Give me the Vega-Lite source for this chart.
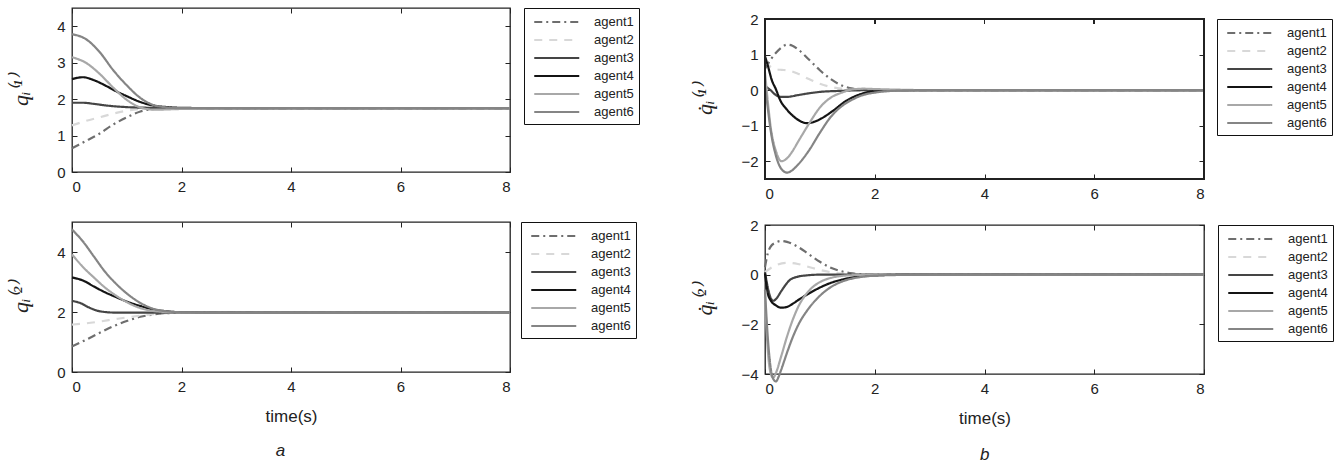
{
"$schema": "https://vega.github.io/schema/vega-lite/v6.json",
"padding": {"left": 9, "top": 6, "right": 0, "bottom": 0},
"spacing": 52,
"config": {
  "font": "Liberation Sans",
  "view": {"stroke": "#222", "strokeWidth": 1.3},
  "axis": {"grid": false, "domain": false, "tickColor": "#222", "tickSize": -5, "tickWidth": 1, "labelFontSize": 15, "labelColor": "#222", "labelPadding": 12, "labelFont": "Liberation Sans", "titleFontWeight": "normal", "titleColor": "#222"},
  "axisY": {"titleFont": "Liberation Serif", "titleFontStyle": "italic", "titleFontSize": 22, "titlePadding": 24},
  "axisX": {"titleFontSize": 17, "titlePadding": 14},
  "line": {"strokeWidth": 2.2, "interpolate": "monotone", "clip": true},
  "rule": {"color": "#222", "strokeWidth": 1.3, "strokeCap": "square"},
  "legend": {"orient": "none", "legendX": 452, "legendY": 0, "strokeColor": "#111", "fillColor": "#fff", "padding": 5, "rowPadding": 2, "labelFontSize": 13, "labelFont": "Liberation Sans", "labelColor": "#222", "symbolSize": 225, "symbolStrokeWidth": 2.2, "symbolType": "M-0.5,0H5.5", "labelOffset": 47}
},
"data": {"values": [
{"p":"a1","g":"agent1","t":0,"v":0.65},{"p":"a1","g":"agent1","t":0.25,"v":0.85},{"p":"a1","g":"agent1","t":0.5,"v":1.05},{"p":"a1","g":"agent1","t":0.75,"v":1.3},{"p":"a1","g":"agent1","t":1,"v":1.5},{"p":"a1","g":"agent1","t":1.25,"v":1.66},{"p":"a1","g":"agent1","t":1.5,"v":1.73},{"p":"a1","g":"agent1","t":2,"v":1.75},{"p":"a1","g":"agent1","t":3,"v":1.75},{"p":"a1","g":"agent1","t":8,"v":1.75},
{"p":"a1","g":"agent2","t":0,"v":1.28},{"p":"a1","g":"agent2","t":0.25,"v":1.4},{"p":"a1","g":"agent2","t":0.5,"v":1.5},{"p":"a1","g":"agent2","t":0.75,"v":1.6},{"p":"a1","g":"agent2","t":1,"v":1.68},{"p":"a1","g":"agent2","t":1.25,"v":1.73},{"p":"a1","g":"agent2","t":1.5,"v":1.75},{"p":"a1","g":"agent2","t":2,"v":1.75},{"p":"a1","g":"agent2","t":3,"v":1.75},{"p":"a1","g":"agent2","t":8,"v":1.75},
{"p":"a1","g":"agent3","t":0,"v":1.9},{"p":"a1","g":"agent3","t":0.2,"v":1.9},{"p":"a1","g":"agent3","t":0.4,"v":1.87},{"p":"a1","g":"agent3","t":0.6,"v":1.83},{"p":"a1","g":"agent3","t":0.8,"v":1.8},{"p":"a1","g":"agent3","t":1,"v":1.78},{"p":"a1","g":"agent3","t":1.5,"v":1.76},{"p":"a1","g":"agent3","t":2,"v":1.75},{"p":"a1","g":"agent3","t":3,"v":1.75},{"p":"a1","g":"agent3","t":8,"v":1.75},
{"p":"a1","g":"agent4","t":0,"v":2.55},{"p":"a1","g":"agent4","t":0.2,"v":2.6},{"p":"a1","g":"agent4","t":0.4,"v":2.52},{"p":"a1","g":"agent4","t":0.6,"v":2.38},{"p":"a1","g":"agent4","t":0.8,"v":2.22},{"p":"a1","g":"agent4","t":1,"v":2.08},{"p":"a1","g":"agent4","t":1.25,"v":1.92},{"p":"a1","g":"agent4","t":1.5,"v":1.82},{"p":"a1","g":"agent4","t":1.75,"v":1.78},{"p":"a1","g":"agent4","t":2,"v":1.76},{"p":"a1","g":"agent4","t":3,"v":1.75},{"p":"a1","g":"agent4","t":8,"v":1.75},
{"p":"a1","g":"agent5","t":0,"v":3.15},{"p":"a1","g":"agent5","t":0.25,"v":3.0},{"p":"a1","g":"agent5","t":0.5,"v":2.7},{"p":"a1","g":"agent5","t":0.75,"v":2.32},{"p":"a1","g":"agent5","t":1,"v":1.98},{"p":"a1","g":"agent5","t":1.25,"v":1.77},{"p":"a1","g":"agent5","t":1.5,"v":1.71},{"p":"a1","g":"agent5","t":2,"v":1.73},{"p":"a1","g":"agent5","t":3,"v":1.75},{"p":"a1","g":"agent5","t":8,"v":1.75},
{"p":"a1","g":"agent6","t":0,"v":3.78},{"p":"a1","g":"agent6","t":0.25,"v":3.65},{"p":"a1","g":"agent6","t":0.5,"v":3.3},{"p":"a1","g":"agent6","t":0.75,"v":2.8},{"p":"a1","g":"agent6","t":1,"v":2.38},{"p":"a1","g":"agent6","t":1.25,"v":2.03},{"p":"a1","g":"agent6","t":1.5,"v":1.83},{"p":"a1","g":"agent6","t":1.75,"v":1.77},{"p":"a1","g":"agent6","t":2,"v":1.75},{"p":"a1","g":"agent6","t":3,"v":1.75},{"p":"a1","g":"agent6","t":8,"v":1.75},

{"p":"a2","g":"agent1","t":0,"v":0.85},{"p":"a2","g":"agent1","t":0.25,"v":1.07},{"p":"a2","g":"agent1","t":0.5,"v":1.3},{"p":"a2","g":"agent1","t":0.75,"v":1.52},{"p":"a2","g":"agent1","t":1,"v":1.7},{"p":"a2","g":"agent1","t":1.25,"v":1.84},{"p":"a2","g":"agent1","t":1.5,"v":1.92},{"p":"a2","g":"agent1","t":1.75,"v":1.96},{"p":"a2","g":"agent1","t":2,"v":1.98},{"p":"a2","g":"agent1","t":3,"v":1.98},{"p":"a2","g":"agent1","t":8,"v":1.98},
{"p":"a2","g":"agent2","t":0,"v":1.58},{"p":"a2","g":"agent2","t":0.25,"v":1.62},{"p":"a2","g":"agent2","t":0.5,"v":1.68},{"p":"a2","g":"agent2","t":0.75,"v":1.75},{"p":"a2","g":"agent2","t":1,"v":1.82},{"p":"a2","g":"agent2","t":1.25,"v":1.88},{"p":"a2","g":"agent2","t":1.5,"v":1.93},{"p":"a2","g":"agent2","t":1.75,"v":1.96},{"p":"a2","g":"agent2","t":2,"v":1.98},{"p":"a2","g":"agent2","t":3,"v":1.98},{"p":"a2","g":"agent2","t":8,"v":1.98},
{"p":"a2","g":"agent3","t":0,"v":2.37},{"p":"a2","g":"agent3","t":0.15,"v":2.3},{"p":"a2","g":"agent3","t":0.3,"v":2.16},{"p":"a2","g":"agent3","t":0.45,"v":2.05},{"p":"a2","g":"agent3","t":0.6,"v":2.0},{"p":"a2","g":"agent3","t":0.8,"v":1.98},{"p":"a2","g":"agent3","t":1,"v":1.98},{"p":"a2","g":"agent3","t":3,"v":1.98},{"p":"a2","g":"agent3","t":8,"v":1.98},
{"p":"a2","g":"agent4","t":0,"v":3.15},{"p":"a2","g":"agent4","t":0.2,"v":3.05},{"p":"a2","g":"agent4","t":0.4,"v":2.85},{"p":"a2","g":"agent4","t":0.6,"v":2.66},{"p":"a2","g":"agent4","t":0.8,"v":2.5},{"p":"a2","g":"agent4","t":1,"v":2.35},{"p":"a2","g":"agent4","t":1.25,"v":2.2},{"p":"a2","g":"agent4","t":1.5,"v":2.08},{"p":"a2","g":"agent4","t":1.75,"v":2.02},{"p":"a2","g":"agent4","t":2,"v":1.99},{"p":"a2","g":"agent4","t":2.5,"v":1.98},{"p":"a2","g":"agent4","t":8,"v":1.98},
{"p":"a2","g":"agent5","t":0,"v":3.92},{"p":"a2","g":"agent5","t":0.2,"v":3.5},{"p":"a2","g":"agent5","t":0.4,"v":3.15},{"p":"a2","g":"agent5","t":0.6,"v":2.82},{"p":"a2","g":"agent5","t":0.8,"v":2.55},{"p":"a2","g":"agent5","t":1,"v":2.33},{"p":"a2","g":"agent5","t":1.25,"v":2.13},{"p":"a2","g":"agent5","t":1.5,"v":2.03},{"p":"a2","g":"agent5","t":2,"v":1.98},{"p":"a2","g":"agent5","t":3,"v":1.98},{"p":"a2","g":"agent5","t":8,"v":1.98},
{"p":"a2","g":"agent6","t":0,"v":4.75},{"p":"a2","g":"agent6","t":0.2,"v":4.35},{"p":"a2","g":"agent6","t":0.4,"v":3.85},{"p":"a2","g":"agent6","t":0.6,"v":3.35},{"p":"a2","g":"agent6","t":0.8,"v":2.95},{"p":"a2","g":"agent6","t":1,"v":2.62},{"p":"a2","g":"agent6","t":1.25,"v":2.3},{"p":"a2","g":"agent6","t":1.5,"v":2.1},{"p":"a2","g":"agent6","t":1.75,"v":2.02},{"p":"a2","g":"agent6","t":2,"v":1.99},{"p":"a2","g":"agent6","t":2.5,"v":1.98},{"p":"a2","g":"agent6","t":8,"v":1.98},

{"p":"b1","g":"agent1","t":0,"v":0.6},{"p":"b1","g":"agent1","t":0.1,"v":0.85},{"p":"b1","g":"agent1","t":0.2,"v":1.05},{"p":"b1","g":"agent1","t":0.3,"v":1.2},{"p":"b1","g":"agent1","t":0.4,"v":1.28},{"p":"b1","g":"agent1","t":0.5,"v":1.25},{"p":"b1","g":"agent1","t":0.6,"v":1.15},{"p":"b1","g":"agent1","t":0.8,"v":0.86},{"p":"b1","g":"agent1","t":1,"v":0.56},{"p":"b1","g":"agent1","t":1.2,"v":0.31},{"p":"b1","g":"agent1","t":1.4,"v":0.13},{"p":"b1","g":"agent1","t":1.6,"v":0.04},{"p":"b1","g":"agent1","t":1.8,"v":0.01},{"p":"b1","g":"agent1","t":2,"v":0},{"p":"b1","g":"agent1","t":3,"v":0},{"p":"b1","g":"agent1","t":8,"v":0},
{"p":"b1","g":"agent2","t":0,"v":0.8},{"p":"b1","g":"agent2","t":0.1,"v":0.66},{"p":"b1","g":"agent2","t":0.2,"v":0.59},{"p":"b1","g":"agent2","t":0.3,"v":0.57},{"p":"b1","g":"agent2","t":0.4,"v":0.56},{"p":"b1","g":"agent2","t":0.6,"v":0.46},{"p":"b1","g":"agent2","t":0.8,"v":0.31},{"p":"b1","g":"agent2","t":1,"v":0.18},{"p":"b1","g":"agent2","t":1.2,"v":0.09},{"p":"b1","g":"agent2","t":1.4,"v":0.04},{"p":"b1","g":"agent2","t":1.6,"v":0.01},{"p":"b1","g":"agent2","t":2,"v":0},{"p":"b1","g":"agent2","t":3,"v":0},{"p":"b1","g":"agent2","t":8,"v":0},
{"p":"b1","g":"agent3","t":0,"v":0.12},{"p":"b1","g":"agent3","t":0.1,"v":0.0},{"p":"b1","g":"agent3","t":0.2,"v":-0.14},{"p":"b1","g":"agent3","t":0.3,"v":-0.19},{"p":"b1","g":"agent3","t":0.4,"v":-0.19},{"p":"b1","g":"agent3","t":0.6,"v":-0.14},{"p":"b1","g":"agent3","t":0.8,"v":-0.09},{"p":"b1","g":"agent3","t":1,"v":-0.05},{"p":"b1","g":"agent3","t":1.4,"v":-0.02},{"p":"b1","g":"agent3","t":2,"v":0},{"p":"b1","g":"agent3","t":3,"v":0},{"p":"b1","g":"agent3","t":8,"v":0},
{"p":"b1","g":"agent4","t":0,"v":0.95},{"p":"b1","g":"agent4","t":0.05,"v":0.7},{"p":"b1","g":"agent4","t":0.12,"v":0.3},{"p":"b1","g":"agent4","t":0.2,"v":0.02},{"p":"b1","g":"agent4","t":0.27,"v":-0.26},{"p":"b1","g":"agent4","t":0.4,"v":-0.55},{"p":"b1","g":"agent4","t":0.52,"v":-0.74},{"p":"b1","g":"agent4","t":0.64,"v":-0.87},{"p":"b1","g":"agent4","t":0.76,"v":-0.93},{"p":"b1","g":"agent4","t":0.88,"v":-0.9},{"p":"b1","g":"agent4","t":1,"v":-0.82},{"p":"b1","g":"agent4","t":1.24,"v":-0.58},{"p":"b1","g":"agent4","t":1.48,"v":-0.3},{"p":"b1","g":"agent4","t":1.73,"v":-0.12},{"p":"b1","g":"agent4","t":2,"v":-0.03},{"p":"b1","g":"agent4","t":2.5,"v":0},{"p":"b1","g":"agent4","t":3,"v":0},{"p":"b1","g":"agent4","t":8,"v":0},
{"p":"b1","g":"agent5","t":0,"v":0.5},{"p":"b1","g":"agent5","t":0.05,"v":-0.3},{"p":"b1","g":"agent5","t":0.1,"v":-1.0},{"p":"b1","g":"agent5","t":0.2,"v":-1.72},{"p":"b1","g":"agent5","t":0.3,"v":-2.0},{"p":"b1","g":"agent5","t":0.4,"v":-1.92},{"p":"b1","g":"agent5","t":0.5,"v":-1.72},{"p":"b1","g":"agent5","t":0.6,"v":-1.46},{"p":"b1","g":"agent5","t":0.8,"v":-0.95},{"p":"b1","g":"agent5","t":1,"v":-0.49},{"p":"b1","g":"agent5","t":1.2,"v":-0.21},{"p":"b1","g":"agent5","t":1.4,"v":-0.07},{"p":"b1","g":"agent5","t":1.6,"v":0.02},{"p":"b1","g":"agent5","t":1.8,"v":0.04},{"p":"b1","g":"agent5","t":2,"v":0.03},{"p":"b1","g":"agent5","t":2.5,"v":0.01},{"p":"b1","g":"agent5","t":3,"v":0},{"p":"b1","g":"agent5","t":8,"v":0},
{"p":"b1","g":"agent6","t":0,"v":0.1},{"p":"b1","g":"agent6","t":0.05,"v":-0.5},{"p":"b1","g":"agent6","t":0.1,"v":-1.1},{"p":"b1","g":"agent6","t":0.2,"v":-1.85},{"p":"b1","g":"agent6","t":0.3,"v":-2.22},{"p":"b1","g":"agent6","t":0.4,"v":-2.32},{"p":"b1","g":"agent6","t":0.5,"v":-2.25},{"p":"b1","g":"agent6","t":0.6,"v":-2.1},{"p":"b1","g":"agent6","t":0.8,"v":-1.7},{"p":"b1","g":"agent6","t":1,"v":-1.2},{"p":"b1","g":"agent6","t":1.2,"v":-0.75},{"p":"b1","g":"agent6","t":1.4,"v":-0.45},{"p":"b1","g":"agent6","t":1.6,"v":-0.26},{"p":"b1","g":"agent6","t":1.8,"v":-0.13},{"p":"b1","g":"agent6","t":2,"v":-0.07},{"p":"b1","g":"agent6","t":2.5,"v":-0.01},{"p":"b1","g":"agent6","t":3,"v":0},{"p":"b1","g":"agent6","t":8,"v":0},

{"p":"b2","g":"agent1","t":0,"v":0.3},{"p":"b2","g":"agent1","t":0.05,"v":0.85},{"p":"b2","g":"agent1","t":0.1,"v":1.12},{"p":"b2","g":"agent1","t":0.2,"v":1.3},{"p":"b2","g":"agent1","t":0.3,"v":1.36},{"p":"b2","g":"agent1","t":0.4,"v":1.32},{"p":"b2","g":"agent1","t":0.6,"v":1.12},{"p":"b2","g":"agent1","t":0.8,"v":0.82},{"p":"b2","g":"agent1","t":1,"v":0.52},{"p":"b2","g":"agent1","t":1.2,"v":0.28},{"p":"b2","g":"agent1","t":1.4,"v":0.13},{"p":"b2","g":"agent1","t":1.6,"v":0.05},{"p":"b2","g":"agent1","t":1.8,"v":0.01},{"p":"b2","g":"agent1","t":2,"v":0},{"p":"b2","g":"agent1","t":3,"v":0},{"p":"b2","g":"agent1","t":8,"v":0},
{"p":"b2","g":"agent2","t":0,"v":0.1},{"p":"b2","g":"agent2","t":0.1,"v":0.26},{"p":"b2","g":"agent2","t":0.2,"v":0.38},{"p":"b2","g":"agent2","t":0.4,"v":0.48},{"p":"b2","g":"agent2","t":0.6,"v":0.43},{"p":"b2","g":"agent2","t":0.8,"v":0.31},{"p":"b2","g":"agent2","t":1,"v":0.19},{"p":"b2","g":"agent2","t":1.2,"v":0.1},{"p":"b2","g":"agent2","t":1.4,"v":0.04},{"p":"b2","g":"agent2","t":1.6,"v":0.01},{"p":"b2","g":"agent2","t":2,"v":0},{"p":"b2","g":"agent2","t":3,"v":0},{"p":"b2","g":"agent2","t":8,"v":0},
{"p":"b2","g":"agent3","t":0,"v":0.1},{"p":"b2","g":"agent3","t":0.05,"v":-0.5},{"p":"b2","g":"agent3","t":0.1,"v":-0.92},{"p":"b2","g":"agent3","t":0.15,"v":-1.05},{"p":"b2","g":"agent3","t":0.2,"v":-0.98},{"p":"b2","g":"agent3","t":0.3,"v":-0.65},{"p":"b2","g":"agent3","t":0.45,"v":-0.22},{"p":"b2","g":"agent3","t":0.6,"v":-0.08},{"p":"b2","g":"agent3","t":0.75,"v":-0.03},{"p":"b2","g":"agent3","t":1,"v":0},{"p":"b2","g":"agent3","t":3,"v":0},{"p":"b2","g":"agent3","t":8,"v":0},
{"p":"b2","g":"agent4","t":0,"v":0.05},{"p":"b2","g":"agent4","t":0.05,"v":-0.75},{"p":"b2","g":"agent4","t":0.1,"v":-1.02},{"p":"b2","g":"agent4","t":0.2,"v":-1.24},{"p":"b2","g":"agent4","t":0.3,"v":-1.33},{"p":"b2","g":"agent4","t":0.4,"v":-1.3},{"p":"b2","g":"agent4","t":0.5,"v":-1.18},{"p":"b2","g":"agent4","t":0.6,"v":-1.03},{"p":"b2","g":"agent4","t":0.8,"v":-0.76},{"p":"b2","g":"agent4","t":1,"v":-0.52},{"p":"b2","g":"agent4","t":1.2,"v":-0.33},{"p":"b2","g":"agent4","t":1.4,"v":-0.2},{"p":"b2","g":"agent4","t":1.6,"v":-0.11},{"p":"b2","g":"agent4","t":1.8,"v":-0.05},{"p":"b2","g":"agent4","t":2,"v":-0.03},{"p":"b2","g":"agent4","t":2.5,"v":0},{"p":"b2","g":"agent4","t":3,"v":0},{"p":"b2","g":"agent4","t":8,"v":0},
{"p":"b2","g":"agent5","t":0,"v":-0.9},{"p":"b2","g":"agent5","t":0.05,"v":-3.0},{"p":"b2","g":"agent5","t":0.1,"v":-3.95},{"p":"b2","g":"agent5","t":0.15,"v":-4.15},{"p":"b2","g":"agent5","t":0.2,"v":-3.95},{"p":"b2","g":"agent5","t":0.3,"v":-3.25},{"p":"b2","g":"agent5","t":0.4,"v":-2.5},{"p":"b2","g":"agent5","t":0.5,"v":-1.85},{"p":"b2","g":"agent5","t":0.6,"v":-1.32},{"p":"b2","g":"agent5","t":0.8,"v":-0.65},{"p":"b2","g":"agent5","t":1,"v":-0.3},{"p":"b2","g":"agent5","t":1.2,"v":-0.13},{"p":"b2","g":"agent5","t":1.4,"v":-0.05},{"p":"b2","g":"agent5","t":1.6,"v":-0.02},{"p":"b2","g":"agent5","t":2,"v":0},{"p":"b2","g":"agent5","t":3,"v":0},{"p":"b2","g":"agent5","t":8,"v":0},
{"p":"b2","g":"agent6","t":0,"v":-0.6},{"p":"b2","g":"agent6","t":0.05,"v":-2.5},{"p":"b2","g":"agent6","t":0.1,"v":-3.7},{"p":"b2","g":"agent6","t":0.15,"v":-4.2},{"p":"b2","g":"agent6","t":0.2,"v":-4.3},{"p":"b2","g":"agent6","t":0.25,"v":-4.1},{"p":"b2","g":"agent6","t":0.3,"v":-3.8},{"p":"b2","g":"agent6","t":0.4,"v":-3.15},{"p":"b2","g":"agent6","t":0.5,"v":-2.55},{"p":"b2","g":"agent6","t":0.6,"v":-2.05},{"p":"b2","g":"agent6","t":0.8,"v":-1.35},{"p":"b2","g":"agent6","t":1,"v":-0.85},{"p":"b2","g":"agent6","t":1.2,"v":-0.5},{"p":"b2","g":"agent6","t":1.4,"v":-0.28},{"p":"b2","g":"agent6","t":1.6,"v":-0.15},{"p":"b2","g":"agent6","t":1.8,"v":-0.08},{"p":"b2","g":"agent6","t":2,"v":-0.04},{"p":"b2","g":"agent6","t":2.5,"v":-0.01},{"p":"b2","g":"agent6","t":3,"v":0},{"p":"b2","g":"agent6","t":8,"v":0}
]},
"hconcat": [
 {"spacing": 25,
  "title": {"text": "a", "orient": "bottom", "anchor": "middle", "dx": -44, "fontStyle": "italic", "fontSize": 17, "fontWeight": "normal", "font": "Liberation Sans", "color": "#222", "offset": 18},
  "vconcat": [
  {"width": 438, "height": 164, "transform": [{"filter": "datum.p === 'a1'"}],
   "layer": [
    {"mark": {"type": "line"}, "encoding": {
      "x": {"field": "t", "type": "quantitative", "scale": {"domain": [0, 8], "nice": false}, "axis": {"values": [0, 2, 4, 6, 8], "title": null}},
      "y": {"field": "v", "type": "quantitative", "scale": {"domain": [0, 4.5], "nice": false, "zero": false}, "axis": {"values": [0, 1, 2, 3, 4], "title": "qᵢ⁽¹⁾"}},
      "color": {"field": "g", "type": "nominal", "title": null, "scale": {"domain": ["agent1","agent2","agent3","agent4","agent5","agent6"], "range": ["#6e6e6e","#d8d8d8","#454545","#141414","#a8a8a8","#858585"]}, "legend": {"title": null}},
      "strokeDash": {"field": "g", "type": "nominal", "title": null, "scale": {"domain": ["agent1","agent2","agent3","agent4","agent5","agent6"], "range": [[8,4,2,4],[8,7],[1,0],[1,0],[1,0],[1,0]]}, "legend": {"title": null}}
    }},
    {"mark": {"type": "line", "strokeOpacity": 0}, "encoding": {
      "x": {"field": "t", "type": "quantitative", "scale": {"domain": [0, 8], "nice": false}, "axis": {"orient": "top", "values": [0, 2, 4, 6, 8], "labels": false, "title": null}},
      "y": {"field": "v", "type": "quantitative", "scale": {"domain": [0, 4.5], "nice": false, "zero": false}, "axis": {"orient": "right", "values": [0, 1, 2, 3, 4], "labels": false, "title": null}},
      "detail": {"field": "g"}
    }}
   ],
   "resolve": {"axis": {"x": "independent", "y": "independent"}}
  },
  {"width": 438, "height": 150, "transform": [{"filter": "datum.p === 'a2'"}],
   "layer": [
    {"mark": {"type": "line"}, "encoding": {
      "x": {"field": "t", "type": "quantitative", "scale": {"domain": [0, 8], "nice": false}, "axis": {"values": [0, 2, 4, 6, 8], "title": "time(s)"}},
      "y": {"field": "v", "type": "quantitative", "scale": {"domain": [0, 5], "nice": false, "zero": false}, "axis": {"values": [0, 2, 4], "title": "qᵢ⁽²⁾"}},
      "color": {"field": "g", "type": "nominal", "title": null, "scale": {"domain": ["agent1","agent2","agent3","agent4","agent5","agent6"], "range": ["#6e6e6e","#d8d8d8","#454545","#141414","#a8a8a8","#858585"]}, "legend": {"title": null, "legendX": 449}},
      "strokeDash": {"field": "g", "type": "nominal", "title": null, "scale": {"domain": ["agent1","agent2","agent3","agent4","agent5","agent6"], "range": [[8,4,2,4],[8,7],[1,0],[1,0],[1,0],[1,0]]}, "legend": {"title": null, "legendX": 449}}
    }},
    {"mark": {"type": "line", "strokeOpacity": 0}, "encoding": {
      "x": {"field": "t", "type": "quantitative", "scale": {"domain": [0, 8], "nice": false}, "axis": {"orient": "top", "values": [0, 2, 4, 6, 8], "labels": false, "title": null}},
      "y": {"field": "v", "type": "quantitative", "scale": {"domain": [0, 5], "nice": false, "zero": false}, "axis": {"orient": "right", "values": [0, 2, 4], "labels": false, "title": null}},
      "detail": {"field": "g"}
    }}
   ],
   "resolve": {"axis": {"x": "independent", "y": "independent"}}
  }
 ],
 "resolve": {"scale": {"color": "independent", "strokeDash": "independent"}, "legend": {"color": "independent", "strokeDash": "independent"}}
 },
 {"spacing": 16,
  "title": {"text": "b", "orient": "bottom", "anchor": "middle", "dx": -29, "fontStyle": "italic", "fontSize": 17, "fontWeight": "normal", "font": "Liberation Sans", "color": "#222", "offset": 20},
  "vconcat": [
  {"width": 439, "height": 171, "view": {"stroke": null}, "transform": [{"filter": "datum.p === 'b1'"}],
   "layer": [
    {"mark": {"type": "line"}, "encoding": {
      "x": {"field": "t", "type": "quantitative", "scale": {"domain": [0, 8], "nice": false}, "axis": {"values": [0, 2, 4, 6, 8], "title": null}},
      "y": {"field": "v", "type": "quantitative", "scale": {"domain": [-2.5, 2.31], "nice": false, "zero": false}, "axis": {"values": [-2, -1, 0, 1, 2], "title": "q̇ᵢ⁽¹⁾", "titleY": 91}},
      "color": {"field": "g", "type": "nominal", "title": null, "scale": {"domain": ["agent1","agent2","agent3","agent4","agent5","agent6"], "range": ["#6e6e6e","#d8d8d8","#454545","#141414","#a8a8a8","#858585"]}, "legend": {"title": null, "legendY": 11}},
      "strokeDash": {"field": "g", "type": "nominal", "title": null, "scale": {"domain": ["agent1","agent2","agent3","agent4","agent5","agent6"], "range": [[8,4,2,4],[8,7],[1,0],[1,0],[1,0],[1,0]]}, "legend": {"title": null, "legendY": 11}}
    }},
    {"mark": {"type": "line", "strokeOpacity": 0}, "encoding": {
      "x": {"field": "t", "type": "quantitative", "axis": null},
      "y": {"field": "v", "type": "quantitative", "axis": {"orient": "right", "values": [-2, -1, 0, 1, 2], "labels": false, "title": null}},
      "detail": {"field": "g"}
    }},
    {"mark": {"type": "rule"}, "encoding": {
      "x": {"datum": 0, "type": "quantitative", "axis": null},
      "y": {"datum": -2.5, "type": "quantitative", "axis": null},
      "y2": {"datum": 2}
    }},
    {"mark": {"type": "rule"}, "encoding": {
      "x": {"datum": 8, "type": "quantitative", "axis": null},
      "y": {"datum": -2.5, "type": "quantitative", "axis": null},
      "y2": {"datum": 2}
    }},
    {"mark": {"type": "rule"}, "encoding": {
      "x": {"datum": 0, "type": "quantitative", "axis": null},
      "x2": {"datum": 8},
      "y": {"datum": 2, "type": "quantitative", "axis": null}
    }},
    {"mark": {"type": "rule"}, "encoding": {
      "x": {"datum": 0, "type": "quantitative", "axis": null},
      "x2": {"datum": 8},
      "y": {"datum": -2.5, "type": "quantitative", "axis": null}
    }},
    {"mark": {"type": "rule", "strokeWidth": 1, "strokeCap": "butt"}, "encoding": {
      "x": {"datum": 2, "type": "quantitative", "axis": null},
      "y": {"datum": 2, "type": "quantitative", "axis": null},
      "y2": {"datum": 1.86}
    }},
    {"mark": {"type": "rule", "strokeWidth": 1, "strokeCap": "butt"}, "encoding": {
      "x": {"datum": 4, "type": "quantitative", "axis": null},
      "y": {"datum": 2, "type": "quantitative", "axis": null},
      "y2": {"datum": 1.86}
    }},
    {"mark": {"type": "rule", "strokeWidth": 1, "strokeCap": "butt"}, "encoding": {
      "x": {"datum": 6, "type": "quantitative", "axis": null},
      "y": {"datum": 2, "type": "quantitative", "axis": null},
      "y2": {"datum": 1.86}
    }}
   ],
   "resolve": {"axis": {"x": "independent", "y": "independent"}}
  },
  {"width": 439, "height": 149, "transform": [{"filter": "datum.p === 'b2'"}],
   "layer": [
    {"mark": {"type": "line"}, "encoding": {
      "x": {"field": "t", "type": "quantitative", "scale": {"domain": [0, 8], "nice": false}, "axis": {"values": [0, 2, 4, 6, 8], "title": "time(s)"}},
      "y": {"field": "v", "type": "quantitative", "scale": {"domain": [-4, 2], "nice": false, "zero": false}, "axis": {"values": [-4, -2, 0, 2], "title": "q̇ᵢ⁽²⁾"}},
      "color": {"field": "g", "type": "nominal", "title": null, "scale": {"domain": ["agent1","agent2","agent3","agent4","agent5","agent6"], "range": ["#6e6e6e","#d8d8d8","#454545","#141414","#a8a8a8","#858585"]}, "legend": {"title": null, "legendX": 453}},
      "strokeDash": {"field": "g", "type": "nominal", "title": null, "scale": {"domain": ["agent1","agent2","agent3","agent4","agent5","agent6"], "range": [[8,4,2,4],[8,7],[1,0],[1,0],[1,0],[1,0]]}, "legend": {"title": null, "legendX": 453}}
    }},
    {"mark": {"type": "line", "strokeOpacity": 0}, "encoding": {
      "x": {"field": "t", "type": "quantitative", "scale": {"domain": [0, 8], "nice": false}, "axis": {"orient": "top", "values": [0, 2, 4, 6, 8], "labels": false, "title": null}},
      "y": {"field": "v", "type": "quantitative", "scale": {"domain": [-4, 2], "nice": false, "zero": false}, "axis": {"orient": "right", "values": [-4, -2, 0, 2], "labels": false, "title": null}},
      "detail": {"field": "g"}
    }}
   ],
   "resolve": {"axis": {"x": "independent", "y": "independent"}}
  }
 ],
 "resolve": {"scale": {"color": "independent", "strokeDash": "independent"}, "legend": {"color": "independent", "strokeDash": "independent"}}
 }
],
"resolve": {"scale": {"color": "independent", "strokeDash": "independent"}, "legend": {"color": "independent", "strokeDash": "independent"}}
}
